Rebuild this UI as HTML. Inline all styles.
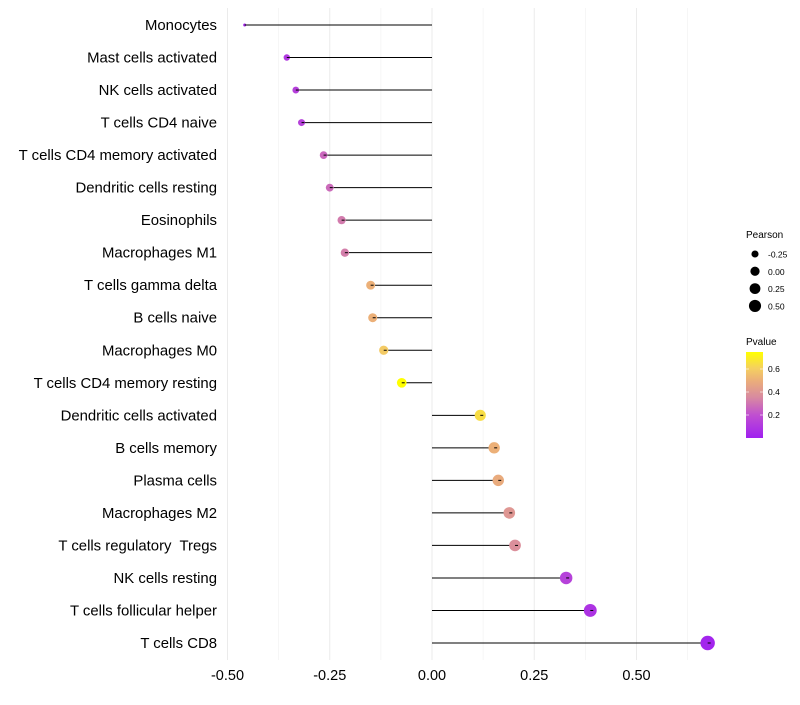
<!DOCTYPE html>
<html><head><meta charset="utf-8"><style>
body{margin:0;background:#fff;font-family:"Liberation Sans",sans-serif}
svg text{font-family:"Liberation Sans",sans-serif;white-space:pre}
</style></head><body>
<svg id="c" width="800" height="700" xmlns="http://www.w3.org/2000/svg"></svg>
<script>
const categories=["Monocytes","Mast cells activated","NK cells activated","T cells CD4 naive","T cells CD4 memory activated","Dendritic cells resting","Eosinophils","Macrophages M1","T cells gamma delta","B cells naive","Macrophages M0","T cells CD4 memory resting","Dendritic cells activated","B cells memory","Plasma cells","Macrophages M2","T cells regulatory  Tregs","NK cells resting","T cells follicular helper","T cells CD8"];
const pearson=[-0.458,-0.355,-0.333,-0.319,-0.265,-0.25,-0.221,-0.213,-0.15,-0.145,-0.118,-0.074,0.118,0.152,0.162,0.189,0.203,0.328,0.387,0.674];
const pvalue=[0.03,0.1,0.13,0.14,0.26,0.27,0.31,0.32,0.5,0.5,0.58,0.74,0.64,0.5,0.48,0.4,0.37,0.14,0.08,0.02];
const xTicks=[-0.5,-0.25,0,0.25,0.5];
const xTickLabels=["-0.50","-0.25","0.00","0.25","0.50"];
const sizeBreaks=[-0.25,0,0.25,0.5];
const sizeLabels=["-0.25","0.00","0.25","0.50"];
const colorTicks=[0.2,0.4,0.6];

const svg=document.getElementById('c');
const NS="http://www.w3.org/2000/svg";
function mk(t,a,p){const e=document.createElementNS(NS,t);for(const k in a)e.setAttribute(k,a[k]);(p||svg).appendChild(e);return e;}
const x=v=>432+v*409;
const y=i=>25+i*(618/19);
const pmin=Math.min(...pearson),pmax=Math.max(...pearson);
const rad=v=>1.5+5.7*Math.sqrt(Math.max(0,(v-pmin)/(pmax-pmin)));
const stops=[[0,[160,32,240]],[0.2,[192,80,208]],[0.35,[216,138,160]],[0.5,[236,176,120]],[0.6,[245,208,96]],[0.74,[255,255,0]]];
function col(p){p=Math.max(0,Math.min(0.74,p));for(let i=0;i<stops.length-1;i++){const[a,ca]=stops[i],[b,cb]=stops[i+1];if(p<=b){const t=(p-a)/(b-a);return 'rgb('+ca.map((c,j)=>Math.round(c+(cb[j]-c)*t)).join(',')+')';}}return 'rgb(255,255,0)';}

const grid=mk('g',{});


for(let v=-0.625;v<=0.7;v+=0.125){const px=x(v);if(px<215||px>722)continue;const major=Math.abs(v*4-Math.round(v*4))<1e-6;mk('line',{x1:px,x2:px,y1:8,y2:660,stroke:major?'#ebebeb':'#f3f3f3','stroke-width':major?1:0.7},grid);}
xTicks.forEach((v,i)=>{const t=mk('text',{x:x(v),y:680,'text-anchor':'middle','font-size':14.5,fill:'#000'});t.textContent=xTickLabels[i];

});
categories.forEach((c,i)=>{
 const g=mk('g',{});
 
 
 mk('line',{x1:x(0),x2:x(pearson[i]),y1:y(i),y2:y(i),stroke:'#000','stroke-width':1},g);
 mk('circle',{cx:x(pearson[i]),cy:y(i),r:rad(pearson[i]),fill:col(pvalue[i])},g);
 mk('line',{x1:x(pearson[i]),x2:x(pearson[i])+3,y1:y(i),y2:y(i),stroke:'#000','stroke-width':1},g);
 const t=mk('text',{x:217,y:y(i)+5,'text-anchor':'end','font-size':14.9,fill:'#000'});t.textContent=c;
 
 
});
const lg=mk('g',{});


let tt=mk('text',{x:746,y:238,'font-size':10},lg);tt.textContent='Pearson';
sizeBreaks.forEach((v,i)=>{const cy=254+i*17.3;mk('circle',{cx:755,cy:cy,r:rad(v)*0.9,fill:'#000'},lg);const t=mk('text',{x:768,y:cy+3.5,'font-size':8.5},lg);t.textContent=sizeLabels[i];});
const cg=mk('g',{});


tt=mk('text',{x:746,y:345,'font-size':10},cg);tt.textContent='Pvalue';
const defs=mk('defs',{});const lgd=mk('linearGradient',{id:'pg',x1:0,y1:1,x2:0,y2:0},defs);
stops.forEach(s=>mk('stop',{offset:s[0]/0.74,'stop-color':'rgb('+s[1].join(',')+')'},lgd));
mk('rect',{x:746,y:352,width:17,height:86,fill:'url(#pg)'},cg);
const cy=v=>438-v*115;
colorTicks.forEach(v=>{mk('line',{x1:746,x2:749,y1:cy(v),y2:cy(v),stroke:'#fff','stroke-width':0.6},cg);mk('line',{x1:760,x2:763,y1:cy(v),y2:cy(v),stroke:'#fff','stroke-width':0.6},cg);const t=mk('text',{x:768,y:cy(v)+3,'font-size':8.5},cg);t.textContent=v.toFixed(1);});
</script>
</body></html>
